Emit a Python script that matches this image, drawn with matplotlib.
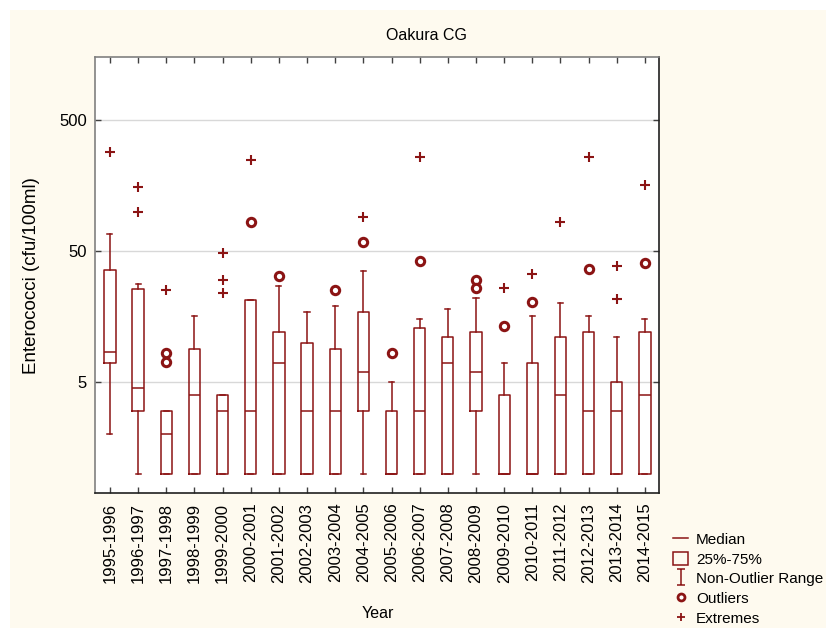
import matplotlib
matplotlib.use("Agg")
import matplotlib.pyplot as plt
from matplotlib.lines import Line2D
from matplotlib.patches import Patch, Rectangle
from matplotlib.path import Path
from matplotlib.ticker import FixedLocator, NullLocator

plt.rcParams['font.family'] = ['Liberation Sans', 'DejaVu Sans']

# data
years = ["1995-1996", "1996-1997", "1997-1998", "1998-1999", "1999-2000",
         "2000-2001", "2001-2002", "2002-2003", "2003-2004", "2004-2005",
         "2005-2006", "2006-2007", "2007-2008", "2008-2009", "2009-2010",
         "2010-2011", "2011-2012", "2012-2013", "2013-2014", "2014-2015"]
medians = [8.5, 4.5, 2, 4, 3, 3, 7, 3, 3, 6, 1, 3, 7, 6, 1, 1, 4, 3, 3, 4]
q1 = [7, 3, 1, 1, 1, 1, 1, 1, 1, 3, 1, 1, 1, 3, 1, 1, 1, 1, 1, 1]
q3 = [36, 25.5, 3, 9, 4, 21, 12, 10, 9, 17, 3, 13, 11, 12, 4, 7, 11, 12, 5, 12]
whis_lo = [2, 1, 1, 1, 1, 1, 1, 1, 1, 1, 1, 1, 1, 1, 1, 1, 1, 1, 1, 1]
whis_hi = [68, 28, 3, 16, 4, 21, 27, 17, 19, 35, 5, 15, 18, 22, 7, 16, 20, 16, 11, 15]
outliers = [[], [], [8.3, 7.15], [], [], [83], [32], [], [25], [59],
            [8.3], [42], [], [30, 26], [13.4], [20.5], [], [36.4], [], [40.3]]
extremes = [[286], [153, 100], [25], [], [48.5, 30, 23.8], [247], [], [], [], [91],
            [], [261], [], [], [26], [33.2], [83], [261], [38.6, 21.6], [161]]

red = '#8b1414'

fig = plt.figure(figsize=(8.26, 6.28), dpi=100, facecolor='white')
fig.patches.append(Rectangle((10/826, 0), 1, 1 - 10/628, transform=fig.transFigure,
                             facecolor='#fefaef', edgecolor='none', zorder=-10))
ax = fig.add_axes([95/826, 135/628, 564/826, 436/628])
ax.set_facecolor('white')

positions = list(range(1, len(years) + 1))
stats = []
for i in range(len(years)):
    stats.append(dict(med=medians[i], q1=q1[i], q3=q3[i], whislo=whis_lo[i],
                      whishi=whis_hi[i], fliers=outliers[i], label=years[i]))

ax.bxp(stats, positions=positions, widths=0.4, capwidths=0.18, showfliers=True,
       boxprops=dict(color=red, lw=1.1),
       medianprops=dict(color=red, lw=1.1),
       whiskerprops=dict(color=red, lw=1.1),
       capprops=dict(color=red, lw=1.1),
       flierprops=dict(marker='o', markersize=6, markerfacecolor='white',
                       markeredgecolor=red, markeredgewidth=2.2, linestyle='none'))

for p, ex in zip(positions, extremes):
    if ex:
        ax.plot([p] * len(ex), ex, linestyle='none', marker='+', markersize=7,
                markeredgewidth=1.5, color=red)

ax.set_yscale('log')
ax.set_ylim(0.71, 1515)
ax.set_xlim(0.47, 20.5)
ax.yaxis.set_major_locator(FixedLocator([5, 50, 500]))
ax.yaxis.set_minor_locator(NullLocator())
ax.set_yticklabels(['5', '50', '500'])
ax.set_xticks(positions)
ax.set_xticklabels(years, rotation=90)
ax.tick_params(axis='both', direction='in', length=4, width=1, color='#404040',
               labelsize=12, top=True, right=True)
ax.tick_params(axis='x', pad=7)
ax.tick_params(axis='y', pad=6)
ax.grid(axis='y', color='#d8d8d8', lw=1)
ax.set_axisbelow(True)

for s in ['left', 'top']:
    ax.spines[s].set_color('#808080')
for s in ['right', 'bottom']:
    ax.spines[s].set_color('#202020')
for s in ax.spines.values():
    s.set_linewidth(1.2)

fig.text(427/826, 1 - 35/628, 'Oakura CG', ha='center', va='center', fontsize=11.5)
fig.text(32/826, 1 - 276/628, 'Enterococci (cfu/100ml)', rotation=90,
         ha='center', va='center', fontsize=13.5)
fig.text(378/826, 1 - 613/628, 'Year', ha='center', va='center', fontsize=11.5)

ibeam = Path([(-0.5, -1), (0.5, -1), (0, -1), (0, 1), (-0.5, 1), (0.5, 1)],
             [Path.MOVETO, Path.LINETO, Path.MOVETO, Path.LINETO, Path.MOVETO, Path.LINETO])
handles = [
    Line2D([], [], color=red, lw=1.1),
    Patch(facecolor='none', edgecolor=red, lw=1.1),
    Line2D([], [], color=red, marker=ibeam, markersize=12, linestyle='none', markeredgewidth=1.1),
    Line2D([], [], color=red, marker='o', markersize=5, markerfacecolor='white',
           markeredgewidth=2, linestyle='none'),
    Line2D([], [], color=red, marker='+', markersize=6, markeredgewidth=1.3, linestyle='none'),
]
labels = ['Median', '25%-75%', 'Non-Outlier Range', 'Outliers', 'Extremes']
fig.legend(handles, labels, loc='upper left', bbox_to_anchor=(673/826, 1 - 532/628),
           frameon=False, fontsize=11, handlelength=1.0, handleheight=1.0,
           handletextpad=0.5, labelspacing=0.3, borderpad=0, borderaxespad=0)

fig.savefig('out.png', dpi=100, facecolor=fig.get_facecolor())
